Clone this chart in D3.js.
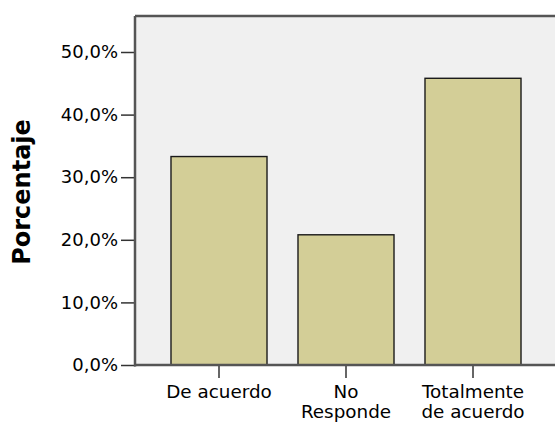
<!DOCTYPE html>
<html>
<head>
<meta charset="utf-8">
<script src="https://cdn.jsdelivr.net/npm/d3@7"></script>
<style>
  body { margin: 0; background: #fff; }
  text { font-family: "DejaVu Sans", sans-serif; fill: #000; }
</style>
</head>
<body>
<div id="chart"></div>
<script>
// data
var categories = ['De acuerdo', 'No Responde', 'Totalmente de acuerdo'];
var categoryLines = [['De acuerdo'], ['No', 'Responde'], ['Totalmente', 'de acuerdo']];
var percentages = [33.3, 20.8, 45.8];
var yTicks = [0, 10, 20, 30, 40, 50];
var yTitle = 'Porcentaje';

var width = 555, height = 423;
var plotLeft = 135, plotTop = 16, plotBottom = 365;

var svg = d3.select('#chart').append('svg')
  .attr('width', width)
  .attr('height', height);

// comma decimal like the original
var esFormat = d3.formatLocale({decimal: ',', thousands: '.', grouping: [3], currency: ['', '€']});
var pct = function(d) { return esFormat.format('.1f')(d) + '%'; };

var y = d3.scaleLinear().domain([0, 50]).range([plotBottom, 52]);

var x = d3.scaleBand()
  .domain(categories)
  .range([155.5, 536.5])
  .paddingInner(0.244)
  .paddingOuter(0.122);

// plot background
svg.append('rect')
  .attr('x', plotLeft)
  .attr('y', plotTop)
  .attr('width', width - plotLeft + 5)
  .attr('height', plotBottom - plotTop)
  .attr('fill', '#f0f0f0');

// bars
svg.append('g').selectAll('rect')
  .data(percentages)
  .enter()
  .append('rect')
  .attr('x', function(d, i) { return x(categories[i]); })
  .attr('y', function(d) { return y(d); })
  .attr('width', x.bandwidth())
  .attr('height', function(d) { return y(0) - y(d); })
  .attr('fill', '#d3ce97')
  .attr('stroke', '#1a1a1a')
  .attr('stroke-width', 1.4);

// frame top line
svg.append('line')
  .attr('x1', plotLeft).attr('x2', width + 5)
  .attr('y1', plotTop).attr('y2', plotTop)
  .attr('stroke', '#555').attr('stroke-width', 2.5);

// y axis
var yAxis = svg.append('g')
  .attr('transform', 'translate(' + plotLeft + ',0)')
  .call(d3.axisLeft(y).tickValues(yTicks).tickFormat(pct).tickSize(14).tickPadding(3));
yAxis.select('.domain').remove();
yAxis.selectAll('.tick line').attr('stroke', '#333').attr('stroke-width', 1.5);
yAxis.selectAll('.tick text').attr('font-size', 18).attr('fill', '#000');
yAxis.append('line')
  .attr('x1', 0).attr('x2', 0)
  .attr('y1', plotTop).attr('y2', plotBottom + 1.5)
  .attr('stroke', '#555').attr('stroke-width', 2.5);

// x axis
var xAxis = svg.append('g')
  .attr('transform', 'translate(0,' + plotBottom + ')')
  .call(d3.axisBottom(x).tickSize(13).tickFormat(''));
xAxis.select('.domain').remove();
xAxis.selectAll('.tick line').attr('stroke', '#333').attr('stroke-width', 1.5);
xAxis.append('line')
  .attr('x1', plotLeft - 1).attr('x2', width + 5)
  .attr('y1', 0).attr('y2', 0)
  .attr('stroke', '#555').attr('stroke-width', 2.5);

// category labels, wrapped like the original (one text per line)
var labelGroups = svg.append('g').selectAll('g')
  .data(categoryLines)
  .enter()
  .append('g')
  .attr('transform', function(d, i) {
    return 'translate(' + (x(categories[i]) + x.bandwidth() / 2) + ',398) scale(1.08,1)';
  });
labelGroups.selectAll('text')
  .data(function(d) { return d; })
  .enter()
  .append('text')
  .attr('text-anchor', 'middle')
  .attr('font-size', 17)
  .attr('y', function(d, i) { return i * 20; })
  .text(function(d) { return d; });

// y title
svg.append('text')
  .attr('transform', 'translate(30,192) rotate(-90)')
  .attr('text-anchor', 'middle')
  .attr('font-size', 24)
  .attr('font-weight', 'bold')
  .text(yTitle);
</script>
</body>
</html>
